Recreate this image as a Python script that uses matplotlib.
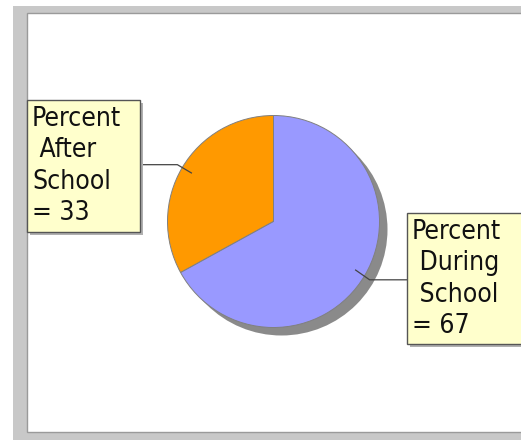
import numpy as np
import matplotlib.pyplot as plt
from matplotlib.patches import Rectangle, Circle

# data
categories = ['Percent After School', 'Percent During School']
values = [33, 67]
colors = ['#FF9900', '#9999FF']
box_texts = ['Percent\n After\nSchool\n= 33', 'Percent\n During\n School\n= 67']

W, H = 521, 440


def Y(y_px):
    # pixel row (from top) -> data y
    return H - y_px


fig = plt.figure(figsize=(W / 100, H / 100), dpi=100)
ax = fig.add_axes([0, 0, 1, 1])

# frame
ax.add_patch(Rectangle((13, Y(460)), 540, 460 - 6, facecolor='#C8C8C8', edgecolor='none', zorder=0))
ax.add_patch(Rectangle((27, Y(432)), 520, 432 - 13, facecolor='white', edgecolor='#9a9a9a', linewidth=1, zorder=1))

# pie
cx, cy, r = 273.5, Y(221.5), 106
ax.add_patch(Circle((cx + 8, cy - 8), r, facecolor='#8a8a8a', edgecolor='none', zorder=2))
wedges, _ = ax.pie(values, colors=colors, startangle=90, counterclock=True,
                   center=(cx, cy), radius=r,
                   wedgeprops=dict(edgecolor='#808080', linewidth=0.7, zorder=3))
for w in wedges:
    w.set_zorder(3)

# label boxes and leader lines
boxes = [(27, 100, 113, 132), (407, 213, 120, 131)]
sides = [-1, 1]
total = sum(values)
start = 90.0
for i, v in enumerate(values):
    ang = np.deg2rad(start + 360.0 * v / total / 2)
    start += 360.0 * v / total
    ax_, ay_ = cx + 0.9 * r * np.cos(ang), cy + 0.9 * r * np.sin(ang)
    bx, by, bw, bh = boxes[i]
    ly = Y(by) - bh * 0.49 if i == 0 else Y(by) - bh * 0.51
    elbow_x = ax_ + sides[i] * 14
    edge_x = bx + bw if sides[i] < 0 else bx
    ax.plot([ax_, elbow_x, edge_x], [ay_, ly, ly], color='#444444', linewidth=0.9, zorder=4)

    ax.add_patch(Rectangle((bx + 3, Y(by + bh) - 3), bw, bh, facecolor='#b0b0b0', edgecolor='none', zorder=5))
    ax.add_patch(Rectangle((bx, Y(by + bh)), bw, bh, facecolor='#FFFFCC', edgecolor='#555555', linewidth=1, zorder=6))
    ax.text(bx + 5, Y(by) - 6, box_texts[i], ha='left', va='top', fontsize=19,
            fontstretch='condensed', family='DejaVu Sans', linespacing=1.27,
            color='#111111', zorder=7)

ax.set_xlim(0, W)
ax.set_ylim(0, H)
ax.set_aspect('auto')
ax.axis('off')

fig.savefig('out.png', dpi=100)
